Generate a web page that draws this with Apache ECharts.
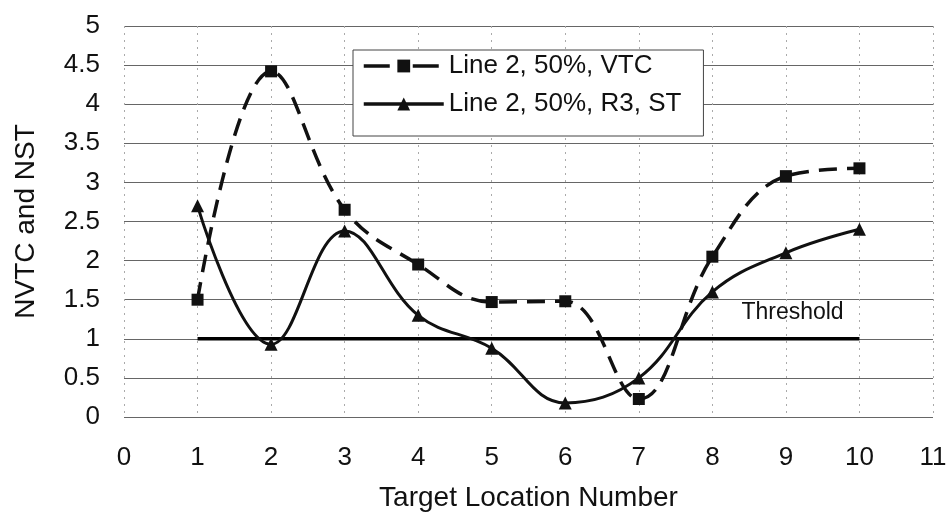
<!DOCTYPE html>
<html><head><meta charset="utf-8">
<script src="https://cdn.jsdelivr.net/npm/echarts@6/dist/echarts.min.js"></script>
<style>html,body{margin:0;padding:0;background:#fff}#c{width:948px;height:514px}</style>
</head><body><div id="c"></div>
<script>
const xValues = [1,2,3,4,5,6,7,8,9,10];
const vtc = [1.5,4.42,2.65,1.95,1.47,1.48,0.23,2.05,3.08,3.18];
const st = [2.7,0.93,2.38,1.3,0.88,0.18,0.5,1.6,2.1,2.4];
const thresholdValue = 1;
const thresholdRange = [1,10];
const seriesNames = ['Line 2, 50%, VTC','Line 2, 50%, R3, ST'];
const font = 'Liberation Sans, Arial, sans-serif';

const chart = echarts.init(document.getElementById('c'));
chart.setOption({
  animation:false,
  backgroundColor:'#fff',
  grid:{left:124,right:15,top:26,bottom:97,outerBoundsMode:'none',containLabel:false},
  legend:{
    orient:'vertical', left:353, top:50,
    padding:[3,22,19,9], itemGap:12, itemWidth:80, itemHeight:16,
    borderColor:'#444', borderWidth:1, backgroundColor:'#fff',
    textStyle:{fontFamily:font,fontSize:26,color:'#111'},
    data:[
      {name:seriesNames[0],lineStyle:{type:[26,23],width:3.5}},
      {name:seriesNames[1],lineStyle:{width:3.5}}
    ]
  },
  xAxis:{
    type:'value', min:0, max:11, interval:1,
    name:'Target Location Number', nameLocation:'middle', nameGap:67,
    nameTextStyle:{fontFamily:font,fontSize:28,color:'#111'},
    axisLine:{show:false}, axisTick:{show:false},
    axisLabel:{fontFamily:font,fontSize:26,color:'#111',margin:28},
    splitLine:{show:true,lineStyle:{color:'#aaa',type:[2,5],width:1}}
  },
  yAxis:{
    type:'value', min:0, max:5, interval:0.5,
    name:'NVTC and NST', nameLocation:'middle', nameGap:84,
    nameTextStyle:{fontFamily:font,fontSize:28,color:'#111'},
    axisLine:{show:false}, axisTick:{show:false},
    axisLabel:{fontFamily:font,fontSize:26,color:'#111',margin:24},
    splitLine:{show:true,lineStyle:{color:'#666',width:1.2}}
  },
  series:[
    {name:seriesNames[0],type:'line',smooth:0.4,
     data:xValues.map((x,i)=>[x,vtc[i]]),
     symbol:'rect',symbolSize:12,
     itemStyle:{color:'#111'},
     lineStyle:{color:'#111',width:3.5,type:[18,10]},z:3},
    {name:seriesNames[1],type:'line',smooth:0.4,
     data:xValues.map((x,i)=>[x,st[i]]),
     symbol:'triangle',symbolSize:13,
     itemStyle:{color:'#111'},
     lineStyle:{color:'#111',width:3},z:3},
    {name:'Threshold',type:'line',
     data:thresholdRange.map(x=>[x,thresholdValue]),
     symbol:'none',lineStyle:{color:'#000',width:3.5},z:2,
     markPoint:{symbol:'circle',symbolSize:0,
       data:[{coord:[9.09,1.33],label:{show:true,formatter:'Threshold',fontFamily:font,fontSize:23,color:'#111'}}]}}
  ]
});
</script></body></html>
